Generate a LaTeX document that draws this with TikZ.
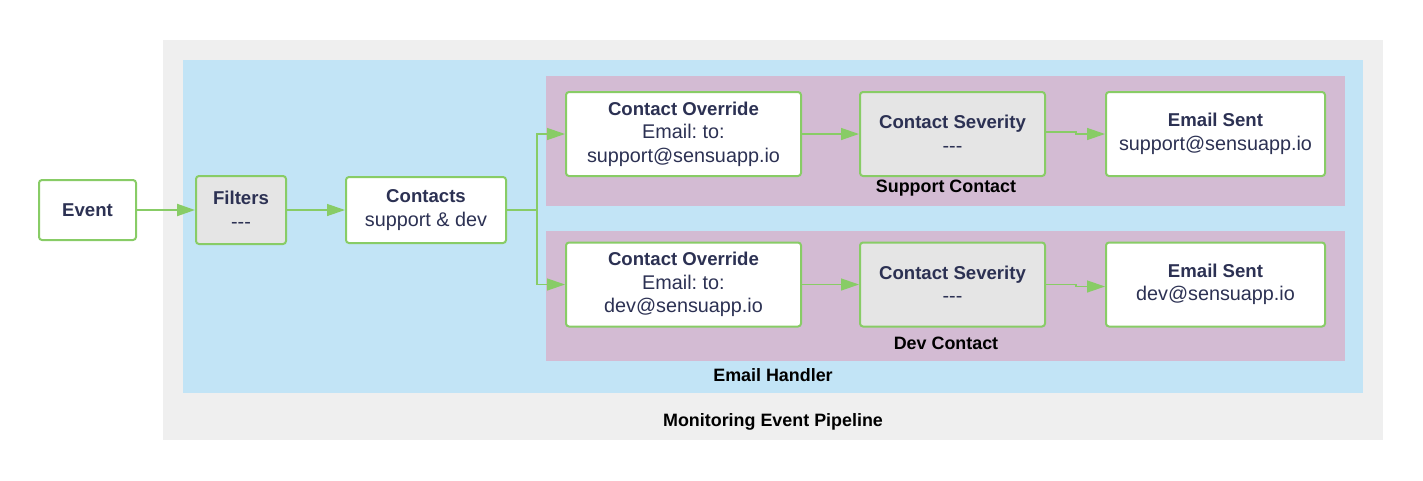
\documentclass[tikz,border=0pt]{standalone}
\usepackage{fontspec}
\setmainfont{Liberation Sans}
\usetikzlibrary{arrows.meta}
\definecolor{grn}{HTML}{88CC66}
\definecolor{navy}{HTML}{2C3153}
\definecolor{outerbg}{HTML}{EFEFEF}
\definecolor{bluebg}{HTML}{C2E4F6}
\definecolor{purplebg}{HTML}{D3BBD3}
\definecolor{greyfill}{HTML}{E5E5E5}
\tikzset{
  box/.style={draw=grn, line width=2pt, rounded corners=3pt, fill=white, text=navy,
    align=center, inner sep=0pt, font=\frenchspacing\fontsize{19.8}{23.5}\selectfont, minimum height=84pt},
  greybox/.style={box, fill=greyfill},
  arr/.style={draw=grn, line width=1.3pt, -{Triangle[length=18pt,width=12pt]}},
  plainline/.style={draw=grn, line width=1.3pt},
  grouplabel/.style={font=\bfseries\fontsize{17.9}{21}\selectfont, text=black, inner sep=0pt},
}
\newcommand{\dashes}{-{}-{}-}
\newcommand{\bt}[1]{{\bfseries\fontsize{18.6}{23.5}\selectfont #1}}
\begin{document}
\begin{tikzpicture}[x=1pt,y=-1pt]
\useasboundingbox (0,0) rectangle (1423,480);
% backgrounds
\fill[outerbg] (163,40) rectangle (1383,440);
\fill[bluebg] (183,60) rectangle (1363,393);
\fill[purplebg] (546,76) rectangle (1345,206);
\fill[purplebg] (546,231) rectangle (1345,361);
% group labels
\node[grouplabel] (lsup) at (946,188) {Support Contact};
\node[grouplabel] (ldev) at (946,343) {Dev Contact};
\node[grouplabel] (lemail) at (773,375) {Email Handler};
\node[grouplabel] (lpipe) at (773,422) {Monitoring Event Pipeline};
% nodes
\node[box, minimum width=97pt, minimum height=60pt] (event) at (87.5,210) {\bt{Event}};
\node[greybox, minimum width=90pt, minimum height=68pt] (filters) at (241,210) {\bt{Filters}\\\dashes};
\node[box, minimum width=160pt, minimum height=66pt] (contacts) at (426,210) {\bt{Contacts}\\support \& dev};
\node[box, minimum width=235pt] (o1) at (683.5,134) {\bt{Contact Override}\\Email: to:\\support@sensuapp.io};
\node[greybox, minimum width=185pt] (s1) at (952.5,134) {\bt{Contact Severity}\\\dashes};
\node[box, minimum width=219pt] (e1) at (1215.5,134) {\bt{Email Sent}\\support@sensuapp.io};
\node[box, minimum width=235pt] (o2) at (683.5,284.5) {\bt{Contact Override}\\Email: to:\\dev@sensuapp.io};
\node[greybox, minimum width=185pt] (s2) at (952.5,284.5) {\bt{Contact Severity}\\\dashes};
\node[box, minimum width=219pt] (e2) at (1215.5,284.5) {\bt{Email Sent}\\dev@sensuapp.io};
% connectors
\draw[arr, line width=2pt] (event) -- (filters);
\draw[arr] (filters) -- (contacts);
\draw[plainline] (contacts.east) -- ++(30,0) coordinate (split);
\draw[arr] (split) |- (o1.west);
\draw[arr] (split) |- (o2.west);
\draw[arr] (o1) -- (s1);
\draw[arr] (o2) -- (s2);
\draw[arr] ([yshift=2pt]s1.east) -- ++(30,0) |- (e1.west);
\draw[arr] (s2.east) -- ++(30,0) |- ([yshift=-2pt]e2.west);
\end{tikzpicture}
\end{document}
